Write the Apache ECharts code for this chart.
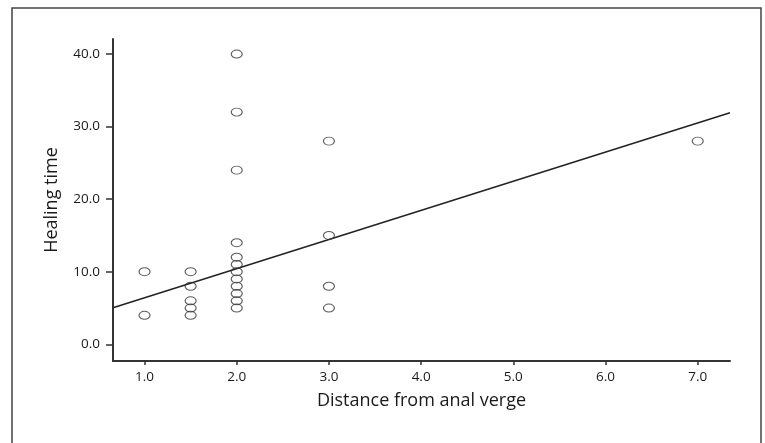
<!DOCTYPE html>
<html>
<head>
<meta charset="utf-8">
<script src="https://cdn.jsdelivr.net/npm/echarts@6/dist/echarts.min.js"></script>
<style>html,body{margin:0;padding:0;background:#fff}#c{width:765px;height:443px}</style>
</head>
<body>
<div id="c"></div>
<script>
// Data
const distance = [1.0, 1.0, 1.5, 1.5, 1.5, 1.5, 1.5,
  2.0, 2.0, 2.0, 2.0, 2.0, 2.0, 2.0, 2.0, 2.0, 2.0, 2.0, 2.0,
  3.0, 3.0, 3.0, 3.0, 7.0];
const healing = [10, 4, 10, 8, 6, 5, 4,
  40, 32, 24, 14, 12, 11, 10, 9, 8, 7, 6, 5,
  28, 15, 8, 5, 28];
const fitX = [0.658, 7.35];
const fitY = [5.05, 31.9];
const xTicks = [1, 2, 3, 4, 5, 6, 7];
const yTicks = [0, 10, 20, 30, 40];

const points = distance.map((d, i) => [d, healing[i]]);
const fitLine = fitX.map((d, i) => [d, fitY[i]]);
const font = '"Open Sans", Lato, sans-serif';

const chart = echarts.init(document.getElementById('c'), null, {renderer: 'canvas'});
chart.setOption({
  animation: false,
  backgroundColor: '#fff',
  grid: {left: 113, right: 35, top: 39, bottom: 82, outerBoundsMode: 'none'},
  xAxis: {
    type: 'value', min: 0.658, max: 7.35,
    name: 'Distance from anal verge', nameLocation: 'middle', nameGap: 31,
    nameTextStyle: {fontSize: 18, color: '#1a1a1a', fontFamily: font},
    axisLine: {show: true, onZero: false, lineStyle: {color: '#333', width: 2}},
    axisTick: {show: true, customValues: xTicks, length: 4, lineStyle: {color: '#333', width: 1.5}},
    axisLabel: {customValues: xTicks, formatter: v => v.toFixed(1), fontSize: 13.5, color: '#1a1a1a', margin: 9, fontFamily: font},
    splitLine: {show: false}
  },
  yAxis: {
    type: 'value', min: -2.3, max: 42.07,
    name: 'Healing time', nameLocation: 'middle', nameGap: 52, nameRotate: 90,
    nameTextStyle: {fontSize: 18, color: '#1a1a1a', fontFamily: font},
    axisLine: {show: true, onZero: false, lineStyle: {color: '#333', width: 2}},
    axisTick: {show: true, customValues: yTicks, length: 7, lineStyle: {color: '#333', width: 1.5}},
    axisLabel: {customValues: yTicks, formatter: v => v.toFixed(1), fontSize: 13.5, color: '#1a1a1a', margin: 13, fontFamily: font},
    splitLine: {show: false}
  },
  graphic: [{
    type: 'rect', silent: true,
    shape: {x: 12, y: 8, width: 749, height: 470},
    style: {fill: 'none', stroke: '#444', lineWidth: 1.5}
  }],
  series: [{
    type: 'line', data: fitLine, symbol: 'none', z: 2,
    lineStyle: {color: '#222', width: 1.5}
  }, {
    type: 'scatter', data: points, z: 3,
    symbol: 'path://M0,5 A5,5 0 1,1 10,5 A5,5 0 1,1 0,5 Z',
    symbolSize: [11, 8], symbolKeepAspect: false,
    itemStyle: {color: 'rgba(255,255,255,0)', borderColor: '#333', borderWidth: 1}
  }]
});
</script>
</body>
</html>
